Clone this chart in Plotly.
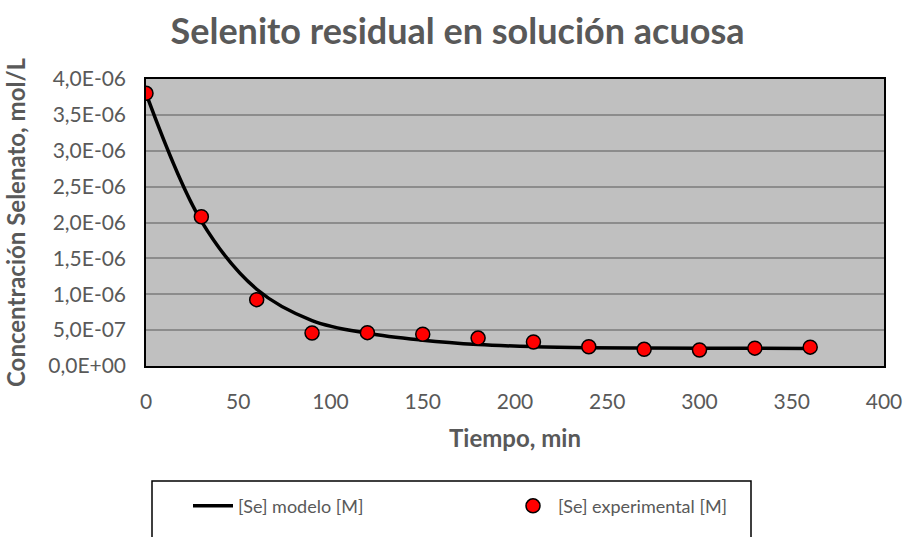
import plotly.graph_objects as go

# ---- data ----
t_model = [0, 30, 60, 90, 120, 150, 180, 210, 240, 270, 300, 330, 360]
se_model = [3.80e-6, 2.02e-6, 1.07e-6, 0.634e-6, 0.456e-6, 0.36e-6, 0.30e-6,
            0.27e-6, 0.255e-6, 0.25e-6, 0.247e-6, 0.246e-6, 0.245e-6]
t_exp = [0, 30, 60, 90, 120, 150, 180, 210, 240, 270, 300, 330, 360]
se_exp = [3.80e-6, 2.08e-6, 0.925e-6, 0.46e-6, 0.465e-6, 0.442e-6, 0.389e-6,
          0.335e-6, 0.268e-6, 0.232e-6, 0.223e-6, 0.249e-6, 0.263e-6]
y_tickvals = [0, 0.5e-6, 1.0e-6, 1.5e-6, 2.0e-6, 2.5e-6, 3.0e-6, 3.5e-6, 4.0e-6]
y_ticktext = ["0,0E+00", "5,0E-07", "1,0E-06", "1,5E-06", "2,0E-06",
              "2,5E-06", "3,0E-06", "3,5E-06", "4,0E-06"]
x_tickvals = [0, 50, 100, 150, 200, 250, 300, 350, 400]

FONT = "Lato"
GRAY = "#595959"

W, H = 904, 537
L, R, T, B = 146, 884, 79, 376  # plot area in px

fig = go.Figure()
fig.add_trace(go.Scatter(
    x=t_model, y=se_model, mode="lines", name="[Se] modelo [M]",
    line=dict(color="black", width=3.5, shape="spline", smoothing=1.0),
))
fig.add_trace(go.Scatter(
    x=t_exp, y=se_exp, mode="markers", name="[Se] experimental [M]",
    marker=dict(color="#ff0000", size=14, line=dict(color="black", width=1.5)),
))

def px_x(p):
    return (p - L) / (R - L)

def px_y(p):
    return (B - p) / (B - T)

fig.update_layout(
    width=W, height=H,
    margin=dict(l=L, r=W - R, t=T, b=H - B),
    paper_bgcolor="white",
    plot_bgcolor="#c0c0c0",
    font=dict(family=FONT, color=GRAY, size=21),
    title=dict(text="<b>Selenito residual en solución acuosa</b>",
               font=dict(family=FONT, size=36, color=GRAY),
               x=(173 + 742) / 2 / W, xanchor="center", y=1 - 31 / H, yanchor="middle"),
    showlegend=True,
    legend=dict(orientation="h", x=px_x(188), y=px_y(521), xanchor="left", yanchor="middle",
                bgcolor="rgba(0,0,0,0)", font=dict(family=FONT, size=18, color=GRAY),
                itemwidth=40, entrywidth=265, entrywidthmode="pixels", traceorder="normal"),
    xaxis=dict(range=[0, 400], tickvals=x_tickvals, showgrid=False, zeroline=False,
               showline=True, linecolor="black", linewidth=1.5, mirror=True, automargin=False,
               ticks="", tickfont=dict(size=21, color=GRAY), ticklabelstandoff=16,
               title=dict(text="<b>Tiempo, min</b>", font=dict(size=24, color=GRAY), standoff=18)),
    yaxis=dict(range=[0, 4e-6], tickvals=y_tickvals, ticktext=y_ticktext,
               showgrid=True, gridcolor="#8c8c8c", gridwidth=1.5, zeroline=False,
               showline=True, linecolor="black", linewidth=1.5, mirror=True, automargin=False,
               ticks="", tickfont=dict(size=21, color=GRAY), ticklabelstandoff=14,
               title=dict(text="<b>Concentración Selenato, mol/L</b>", font=dict(size=24, color=GRAY), standoff=16)),
    shapes=[dict(type="rect", xref="paper", yref="paper",
                 x0=px_x(152), x1=px_x(751), y0=px_y(560), y1=px_y(495),
                 line=dict(color="black", width=1.5), fillcolor="rgba(0,0,0,0)", layer="above")],
)

fig.write_html("out.html", config={"displayModeBar": False},
               post_script="document.body.style.margin='0';")
